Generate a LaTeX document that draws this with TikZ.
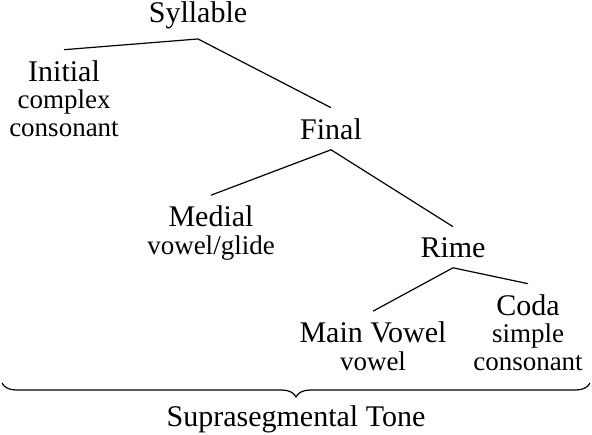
\documentclass[tikz,border=0pt]{standalone}
\usepackage{fontspec}
\setmainfont{Liberation Serif}
\usetikzlibrary{decorations.pathreplacing}
\newcommand{\subtxt}[1]{{\fontsize{27}{27}\selectfont #1}}

\begin{document}
\begin{tikzpicture}[x=1pt,y=-1pt,
  word/.style={font=\fontsize{30}{27.5}\selectfont, align=center, inner sep=0pt, outer sep=10.5pt, anchor=base},
  tie/.style={line width=1.2pt}]
\useasboundingbox (0,0) rectangle (592,434);
% constituents (base = last line)
\node[word] (syl) at (198,22) {Syllable};
\node[word] (ini) at (64,136) {Initial\\\subtxt{complex}\\\subtxt{consonant}};
\node[word] (fin) at (331,139) {Final};
\node[word] (med) at (211,254) {Medial\\\subtxt{vowel/glide}};
\node[word] (rim) at (453,257) {Rime};
\node[word] (vow) at (373,370) {Main Vowel\\\subtxt{vowel}};
\node[word] (cod) at (528,370) {Coda\\\subtxt{simple}\\\subtxt{consonant}};
% branches
\draw[tie] (ini.north) -- (syl.south) -- (fin.north);
\draw[tie] (med.north) -- (fin.south) -- (rim.north);
\draw[tie] (vow.north) -- (rim.south) -- (cod.north);
% tone over the whole syllable
\coordinate (bl) at (2,383);
\coordinate (br) at (590,383);
\draw[tie, decorate, decoration={brace, mirror, amplitude=14pt}] (bl) -- (br);
\node[word] (ton) at (296,426) {Suprasegmental Tone};
\end{tikzpicture}
\end{document}
